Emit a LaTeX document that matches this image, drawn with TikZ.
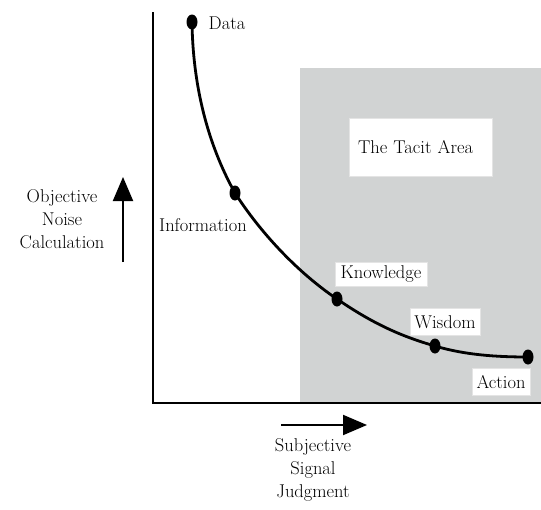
\documentclass[tikz,border=0pt]{standalone}
\usetikzlibrary{arrows.meta,shapes.geometric}
\definecolor{tacit}{RGB}{209,211,211}
\definecolor{boxline}{RGB}{228,228,228}
\begin{document}
\begin{tikzpicture}[x=1pt,y=-1pt,
  lbl/.style={font=\fontsize{18.5}{23}\selectfont, inner sep=0pt},
  wbox/.style={lbl, fill=white, draw=boxline, line width=1pt},
  dot/.style={ellipse, fill=black, minimum width=11pt, minimum height=15pt, inner sep=0pt},
  axis/.style={line width=2pt},
  bigarrow/.style={line width=2pt, -{Triangle[length=24pt,width=20pt]}},
  curve/.style={line width=2.8pt}]
\useasboundingbox (0,0) rectangle (541,509);
% tacit region
\fill[tacit] (300,68) rectangle (541,403);
% axes
\coordinate (top) at (153,12);
\coordinate (org) at (153,403);
\coordinate (right) at (541,403);
\draw[axis] (top) -- (org) -- (right);
% label boxes
\node[wbox, minimum width=143pt, minimum height=58pt, text width=125pt, align=left] (tacitbox) at (420.5,147) {The Tacit Area};
\node[wbox, minimum width=92pt, minimum height=24pt] (lk) at (381,274) {Knowledge};
\node[wbox, minimum width=70pt, minimum height=27pt] (lw) at (445,322) {Wisdom};
\node[wbox, minimum width=58pt, minimum height=27pt] (la) at (501,382) {Action};
\node[lbl] (ld) at (227,23) {Data};
\node[lbl] (li) at (203,225) {Information};
% points
\node[dot] (d) at (192,22) {};
\node[dot] (i) at (235,193) {};
\node[dot] (k) at (337,299) {};
\node[dot] (w) at (435,346) {};
\node[dot] (a) at (528,357) {};
% curve
\draw[curve] (d.center) .. controls (193,95) and (212,152) .. (i.center)
  .. controls (260,232) and (297,272) .. (k.center)
  .. controls (372,323) and (400,336) .. (w.center)
  .. controls (465,355) and (497,357) .. (a.center);
% axis arrows and captions
\coordinate (ya0) at (123,262);
\coordinate (ya1) at (123,177);
\draw[bigarrow] (ya0) -- (ya1);
\node[lbl, align=center] (ycap) at (62,219) {Objective\\Noise\\Calculation};
\coordinate (xa0) at (281,425);
\coordinate (xa1) at (367,425);
\draw[bigarrow] (xa0) -- (xa1);
\node[lbl, align=center] (xcap) at (313,470) {Subjective\\Signal\\Judgment};
\end{tikzpicture}
\end{document}
